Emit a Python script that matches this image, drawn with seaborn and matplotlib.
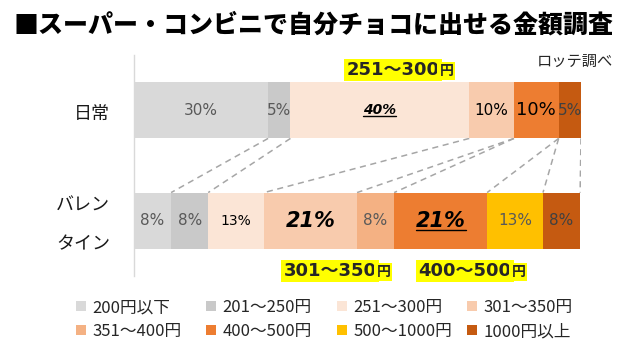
import numpy as np
import pandas as pd
import seaborn as sns
import matplotlib.pyplot as plt
import matplotlib.transforms as mtransforms
from matplotlib.patches import Patch

# data
groups = ['日常', 'バレン\nタイン']
categories = ['200円以下', '201～250円', '251～300円', '301～350円',
              '351～400円', '400～500円', '500～1000円', '1000円以上']
daily = [30, 5, 40, 10, 0, 10, 0, 5]
valentine = [8.3, 8.3, 12.5, 20.8, 8.3, 20.8, 12.5, 8.3]
highlights = ['251～300', '301～350', '400～500']

colors = ['#D9D9D9', '#C9C9C9', '#FBE5D6', '#F8CBAD',
          '#F4B183', '#ED7D31', '#FFC000', '#C55A11']
palette = dict(zip(categories, colors))

sns.set_theme(style='white')
plt.rcParams['font.family'] = ['Noto Sans CJK JP', 'DejaVu Sans']

rows = []
for g, vals in zip(groups, [daily, valentine]):
    cum = np.cumsum(vals)
    for c, v, cv in zip(categories, vals, cum):
        rows.append({'group': g, 'cat': c, 'value': v, 'cum': cv})
df = pd.DataFrame(rows)

W, H = 635, 354
fig = plt.figure(figsize=(6.35, 3.54), dpi=100)
ax = fig.add_axes([134 / W, 1 - 276 / H, (581 - 134) / W, 221 / H])

bar_h = 0.51
# stacked look: draw cumulative totals, longest first
sns.barplot(data=df, x='cum', y='group', hue='cat', order=groups,
            hue_order=categories[::-1], palette=palette, dodge=False,
            width=bar_h, saturation=1, legend=False, orient='h',
            linewidth=0, ax=ax)

ax.set_xlim(0, 100)
ax.set_ylim(1.5, -0.5)
ax.set_xlabel('')
ax.set_ylabel('')
ax.set_xticks([])
ax.set_yticklabels([])
ax.tick_params(axis='y', length=0)
for s in ['top', 'right', 'bottom']:
    ax.spines[s].set_visible(False)
ax.spines['left'].set_color('#D9D9D9')
ax.spines['left'].set_linewidth(1)

# category labels on the left
trans = mtransforms.blended_transform_factory(ax.transAxes, ax.transData)
trans = trans + mtransforms.ScaledTranslation(0, -0.04, fig.dpi_scale_trans)
for i, g in enumerate(groups):
    ax.text(-0.054, i, g, transform=trans, ha='right', va='center',
            size=13, color='#1a1a1a', linespacing=2.45)

# series lines between the bars
for a, b in zip(np.cumsum(daily), np.cumsum(valentine)):
    ax.plot([a, b], [bar_h / 2, 1 - bar_h / 2], color='#A6A6A6', lw=1.1,
            ls=(0, (4, 3)), zorder=0)

# segment labels
grey = dict(color='#595959', size=11)
blk = dict(color='black', size=11)
bigit = dict(color='black', size=15, weight='bold', style='italic')
styles = [
    [grey, grey, dict(color='black', size=10, weight='bold', style='italic'),
     blk, None, dict(color='black', size=13), None, dict(color='#404040', size=11)],
    [grey, grey, dict(color='black', size=10), bigit, grey, bigit,
     dict(color='#595959', size=11), dict(color='#404040', size=11)],
]
underline = [(0, 2), (1, 5)]
texts = {}
for gi, vals in enumerate([daily, valentine]):
    left = 0
    for ci, v in enumerate(vals):
        if v > 0:
            t = ax.text(left + v / 2, gi, f'{int(v + 0.5)}%', ha='center',
                        va='center', family=['DejaVu Sans'], **styles[gi][ci])
            texts[(gi, ci)] = t
        left += v

# yellow range labels
hl_pos = [(400, 70), (337, 271), (472, 271)]
for txt, (px, py) in zip(highlights, hl_pos):
    t1 = fig.text((px - 7) / W, 1 - py / H, txt, ha='center', va='center',
                  size=13, weight='bold', family=['DejaVu Sans', 'Noto Sans CJK JP'],
                  bbox=dict(facecolor='#FFFF00', edgecolor='none', pad=1.5))
    fig.canvas.draw()
    bb = t1.get_window_extent()
    fig.text(bb.x1 / fig.bbox.width, (bb.y0 + 1) / fig.bbox.height, '円',
             ha='left', va='bottom', size=10, weight='bold',
             bbox=dict(facecolor='#FFFF00', edgecolor='none', pad=1.5))

fig.canvas.draw()
inv = ax.transData.inverted()
for key in underline:
    bb = texts[key].get_window_extent()
    (x0, y0), (x1, _) = inv.transform([(bb.x0, bb.y0 + 1), (bb.x1, bb.y0 + 1)])
    ax.plot([x0, x1], [y0, y0], color='black', lw=1)

fig.text(14 / W, 1 - 25 / H, '■スーパー・コンビニで自分チョコに出せる金額調査',
         ha='left', va='center', size=18, weight='heavy', color='black')
fig.text(613 / W, 1 - 61 / H, 'ロッテ調べ', ha='right', va='center',
         size=11, color='#262626')

# legend: four equal-width columns, filled row by row
handles = [Patch(facecolor=c, edgecolor='none') for c in colors]
col_x = [68, 198, 329, 459]
for ci, cx in enumerate(col_x):
    idx = [ci, ci + 4]
    fig.legend([handles[i] for i in idx], [categories[i] for i in idx],
               ncol=1, loc='upper left', bbox_to_anchor=(cx / W, 1 - 291 / H),
               frameon=False, fontsize=12, handlelength=0.55, handleheight=0.55,
               handletextpad=0.4, labelspacing=0.42, borderpad=0,
               labelcolor='#262626')

fig.savefig('out.png', dpi=100)
